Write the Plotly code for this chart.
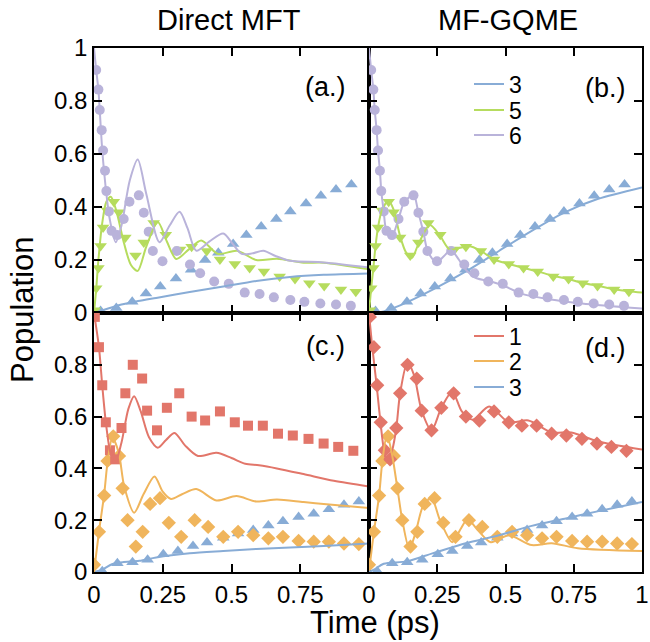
import plotly.graph_objects as go

# ---------------- data ----------------
# exact (marker) results, top row: states 3, 5, 6
T6_EX = [0.008, 0.016, 0.021, 0.028, 0.033, 0.040, 0.045, 0.054, 0.064, 0.084, 0.108, 0.129, 0.163, 0.181, 0.199, 0.214, 0.249, 0.301, 0.349, 0.386, 0.437, 0.490, 0.548, 0.602, 0.654, 0.714, 0.765, 0.823, 0.880, 0.934]
P6_EX = [0.917, 0.843, 0.766, 0.690, 0.613, 0.537, 0.460, 0.383, 0.310, 0.294, 0.355, 0.420, 0.444, 0.378, 0.307, 0.234, 0.195, 0.234, 0.183, 0.150, 0.119, 0.110, 0.077, 0.072, 0.059, 0.049, 0.042, 0.036, 0.032, 0.027]
T5_EX = [0.003, 0.008, 0.016, 0.024, 0.033, 0.048, 0.072, 0.090, 0.114, 0.151, 0.181, 0.217, 0.261, 0.313, 0.355, 0.410, 0.458, 0.512, 0.566, 0.618, 0.675, 0.731, 0.783, 0.837, 0.898, 0.952]
P5_EX = [0.010, 0.093, 0.170, 0.253, 0.323, 0.387, 0.420, 0.380, 0.285, 0.217, 0.266, 0.340, 0.295, 0.240, 0.250, 0.234, 0.202, 0.185, 0.170, 0.157, 0.138, 0.128, 0.112, 0.102, 0.089, 0.080]
T3_EX = [0.024, 0.081, 0.139, 0.189, 0.241, 0.298, 0.353, 0.404, 0.452, 0.506, 0.554, 0.608, 0.663, 0.714, 0.771, 0.825, 0.880, 0.936]
P3_EX = [0.008, 0.019, 0.042, 0.074, 0.100, 0.130, 0.163, 0.200, 0.227, 0.260, 0.294, 0.326, 0.355, 0.383, 0.413, 0.442, 0.466, 0.485]

# exact (marker) results, bottom row: states 1, 2, 3
T1_EX = [0.003, 0.018, 0.030, 0.043, 0.058, 0.077, 0.100, 0.114, 0.141, 0.175, 0.193, 0.229, 0.265, 0.310, 0.355, 0.404, 0.458, 0.512, 0.560, 0.614, 0.669, 0.723, 0.780, 0.835, 0.888, 0.943]
P1_EX = [0.985, 0.868, 0.721, 0.578, 0.470, 0.435, 0.556, 0.690, 0.800, 0.747, 0.623, 0.547, 0.634, 0.690, 0.600, 0.585, 0.620, 0.578, 0.565, 0.565, 0.534, 0.527, 0.514, 0.496, 0.483, 0.468]
T2_EX = [0.000, 0.018, 0.037, 0.049, 0.070, 0.091, 0.104, 0.122, 0.152, 0.177, 0.204, 0.240, 0.272, 0.317, 0.366, 0.415, 0.470, 0.524, 0.579, 0.634, 0.687, 0.744, 0.799, 0.854, 0.909, 0.963]
P2_EX = [0.028, 0.155, 0.295, 0.429, 0.524, 0.448, 0.323, 0.200, 0.098, 0.155, 0.263, 0.285, 0.190, 0.136, 0.200, 0.174, 0.136, 0.155, 0.142, 0.130, 0.136, 0.120, 0.117, 0.117, 0.110, 0.108]
T3B_EX = [0.030, 0.085, 0.140, 0.195, 0.252, 0.305, 0.360, 0.411, 0.470, 0.524, 0.579, 0.634, 0.687, 0.744, 0.799, 0.854, 0.909, 0.963]
P3B_EX = [0.003, 0.034, 0.038, 0.047, 0.069, 0.081, 0.100, 0.114, 0.132, 0.149, 0.162, 0.180, 0.196, 0.212, 0.225, 0.242, 0.260, 0.272]

# Direct MFT lines, panel (a)
T6_MFT = [0, 0.008, 0.016, 0.030, 0.045, 0.058, 0.079, 0.100, 0.130, 0.159, 0.190, 0.238, 0.275, 0.311, 0.340, 0.372, 0.420, 0.470, 0.505, 0.537, 0.575, 0.616, 0.660, 0.713, 0.835, 1.0]
P6_MFT = [1.0, 0.916, 0.842, 0.614, 0.450, 0.350, 0.267, 0.330, 0.500, 0.579, 0.450, 0.267, 0.330, 0.382, 0.320, 0.235, 0.270, 0.300, 0.260, 0.223, 0.225, 0.235, 0.215, 0.197, 0.191, 0.172]
T5_MFT = [0, 0.008, 0.016, 0.030, 0.045, 0.061, 0.080, 0.110, 0.135, 0.159, 0.190, 0.232, 0.265, 0.299, 0.345, 0.390, 0.451, 0.520, 0.590, 0.665, 0.762, 0.835, 1.0]
P5_MFT = [0.0, 0.090, 0.200, 0.340, 0.420, 0.439, 0.390, 0.260, 0.180, 0.159, 0.250, 0.343, 0.270, 0.204, 0.240, 0.274, 0.223, 0.235, 0.200, 0.205, 0.190, 0.190, 0.165]
T3_MFT = [0, 0.040, 0.100, 0.160, 0.226, 0.348, 0.470, 0.590, 0.713, 0.835, 1.0]
P3_MFT = [0, 0.013, 0.032, 0.045, 0.057, 0.079, 0.100, 0.121, 0.136, 0.144, 0.149]

# MF-GQME lines, panel (b)
T6_GQ = [0, 0.008, 0.016, 0.021, 0.028, 0.033, 0.040, 0.045, 0.054, 0.064, 0.084, 0.108, 0.129, 0.145, 0.163, 0.181, 0.199, 0.216, 0.247, 0.275, 0.300, 0.330, 0.355, 0.392, 0.450, 0.500, 0.560, 0.660, 0.780, 1.0]
P6_GQ = [1.0, 0.917, 0.843, 0.766, 0.690, 0.613, 0.537, 0.460, 0.383, 0.310, 0.290, 0.355, 0.420, 0.435, 0.450, 0.378, 0.307, 0.230, 0.192, 0.215, 0.238, 0.200, 0.163, 0.132, 0.118, 0.100, 0.072, 0.052, 0.036, 0.017]
T5_GQ = [0, 0.008, 0.016, 0.024, 0.033, 0.048, 0.072, 0.090, 0.114, 0.135, 0.157, 0.181, 0.223, 0.261, 0.295, 0.330, 0.367, 0.410, 0.458, 0.512, 0.566, 0.618, 0.675, 0.731, 0.783, 0.837, 0.898, 0.952, 1.0]
P5_GQ = [0, 0.093, 0.170, 0.253, 0.323, 0.390, 0.425, 0.390, 0.290, 0.230, 0.208, 0.260, 0.332, 0.290, 0.240, 0.245, 0.253, 0.234, 0.202, 0.185, 0.170, 0.157, 0.140, 0.128, 0.113, 0.103, 0.090, 0.082, 0.077]
T3_GQ = [0, 0.040, 0.114, 0.235, 0.355, 0.476, 0.596, 0.717, 0.837, 1.0]
P3_GQ = [0, 0.003, 0.029, 0.089, 0.157, 0.234, 0.310, 0.380, 0.430, 0.474]

# Direct MFT lines, panel (c)
T1_MFT = [0, 0.018, 0.030, 0.043, 0.060, 0.077, 0.100, 0.125, 0.146, 0.170, 0.200, 0.232, 0.262, 0.293, 0.330, 0.378, 0.445, 0.500, 0.550, 0.600, 0.665, 0.762, 0.872, 1.0]
P1_MFT = [1.0, 0.868, 0.720, 0.578, 0.460, 0.422, 0.500, 0.630, 0.679, 0.620, 0.520, 0.480, 0.510, 0.537, 0.490, 0.448, 0.460, 0.440, 0.418, 0.412, 0.400, 0.378, 0.352, 0.330]
T2_MFT = [0, 0.018, 0.037, 0.050, 0.067, 0.090, 0.110, 0.146, 0.180, 0.220, 0.250, 0.280, 0.320, 0.372, 0.445, 0.518, 0.590, 0.665, 0.762, 0.835, 1.0]
P2_MFT = [0, 0.155, 0.300, 0.430, 0.518, 0.460, 0.330, 0.229, 0.300, 0.369, 0.310, 0.282, 0.300, 0.320, 0.276, 0.293, 0.272, 0.280, 0.270, 0.263, 0.247]
T3B_MFT = [0, 0.030, 0.065, 0.104, 0.165, 0.226, 0.348, 0.470, 0.590, 0.713, 0.835, 1.0]
P3B_MFT = [0, 0.009, 0.030, 0.038, 0.043, 0.056, 0.072, 0.081, 0.089, 0.095, 0.100, 0.110]

# MF-GQME lines, panel (d)
T1_GQ = [0, 0.012, 0.028, 0.042, 0.055, 0.069, 0.085, 0.100, 0.114, 0.141, 0.165, 0.193, 0.229, 0.265, 0.305, 0.340, 0.380, 0.440, 0.512, 0.584, 0.669, 0.741, 0.837, 1.0]
P1_GQ = [1.0, 0.868, 0.721, 0.578, 0.470, 0.422, 0.470, 0.556, 0.690, 0.810, 0.760, 0.623, 0.547, 0.634, 0.696, 0.620, 0.588, 0.639, 0.578, 0.585, 0.539, 0.539, 0.505, 0.473]
T2_GQ = [0, 0.018, 0.037, 0.049, 0.066, 0.085, 0.104, 0.122, 0.148, 0.170, 0.200, 0.229, 0.260, 0.305, 0.335, 0.361, 0.400, 0.446, 0.512, 0.596, 0.669, 0.765, 1.0]
P2_GQ = [0, 0.155, 0.295, 0.429, 0.530, 0.450, 0.323, 0.200, 0.089, 0.150, 0.260, 0.285, 0.200, 0.115, 0.165, 0.204, 0.160, 0.115, 0.142, 0.104, 0.111, 0.092, 0.081]
T3B_GQ = [0, 0.020, 0.054, 0.139, 0.235, 0.355, 0.476, 0.596, 0.717, 0.837, 1.0]
P3B_GQ = [0, 0.010, 0.032, 0.041, 0.073, 0.111, 0.142, 0.178, 0.206, 0.234, 0.270]

X_TICKS = [0, 0.25, 0.5, 0.75, 1]
X_TEXT_LEFT = ["0", "0.25", "0.5", "0.75", ""]
X_TEXT_RIGHT = ["0", "0.25", "0.5", "0.75", "1"]
Y_TICKS = [0, 0.2, 0.4, 0.6, 0.8, 1]
Y_TEXT_TOP = ["0", "0.2", "0.4", "0.6", "0.8", "1"]
Y_TEXT_BOTTOM = ["0", "0.2", "0.4", "0.6", "0.8", ""]

# ---------------- style ----------------
C1 = "#e2766a"
C2 = "#f0b55c"
C3 = "#88acd6"
C5 = "#b6dc5e"
C6 = "#b9b3da"
FONT = "Liberation Sans, Arial, sans-serif"
LW = 2
W, H = 650, 642

fig = go.Figure()


def line(t, p, color, xa, ya, name=None, legend=None):
    fig.add_trace(go.Scatter(
        x=t, y=p, mode="lines", line=dict(color=color, width=LW, shape="spline", smoothing=0.8),
        xaxis=xa, yaxis=ya, name=name if name else "",
        showlegend=name is not None, legend=legend, hoverinfo="skip"))


def marks(t, p, color, symbol, size, xa, ya):
    fig.add_trace(go.Scatter(
        x=t, y=p, mode="markers", marker=dict(color=color, symbol=symbol, size=size, line=dict(width=0)),
        xaxis=xa, yaxis=ya, showlegend=False, hoverinfo="skip"))


# panel (a)
marks(T3_EX, P3_EX, C3, "triangle-up", 11, "x", "y")
marks(T5_EX, P5_EX, C5, "triangle-down", 11, "x", "y")
marks(T6_EX, P6_EX, C6, "circle", 10, "x", "y")
line(T3_MFT, P3_MFT, C3, "x", "y")
line(T5_MFT, P5_MFT, C5, "x", "y")
line(T6_MFT, P6_MFT, C6, "x", "y")

# panel (b)
marks(T3_EX, P3_EX, C3, "triangle-up", 11, "x2", "y2")
marks(T5_EX, P5_EX, C5, "triangle-down", 11, "x2", "y2")
marks(T6_EX, P6_EX, C6, "circle", 10, "x2", "y2")
line(T3_GQ, P3_GQ, C3, "x2", "y2", "3", "legend")
line(T5_GQ, P5_GQ, C5, "x2", "y2", "5", "legend2")
line(T6_GQ, P6_GQ, C6, "x2", "y2", "6", "legend3")

# panel (c)
marks(T3B_EX, P3B_EX, C3, "triangle-up", 11, "x3", "y3")
marks(T2_EX, P2_EX, C2, "diamond", 11, "x3", "y3")
marks(T1_EX, P1_EX, C1, "square", 10, "x3", "y3")
line(T3B_MFT, P3B_MFT, C3, "x3", "y3")
line(T2_MFT, P2_MFT, C2, "x3", "y3")
line(T1_MFT, P1_MFT, C1, "x3", "y3")

# panel (d)
marks(T3B_EX, P3B_EX, C3, "triangle-up", 11, "x4", "y4")
marks(T2_EX, P2_EX, C2, "diamond", 11, "x4", "y4")
marks(T1_EX, P1_EX, C1, "diamond", 11, "x4", "y4")
line(T1_GQ, P1_GQ, C1, "x4", "y4", "1", "legend4")
line(T2_GQ, P2_GQ, C2, "x4", "y4", "2", "legend5")
line(T3B_GQ, P3B_GQ, C3, "x4", "y4", "3", "legend6")

XL = [94 / W, 369 / W]
XR = [369 / W, 642 / W]
YT = [(H - 313) / H, (H - 48) / H]
YB = [(H - 572) / H, (H - 313) / H]

common = dict(showline=True, linecolor="black", linewidth=1.5, mirror="ticks",
              ticks="inside", ticklen=8, tickwidth=1.5, tickcolor="black",
              showgrid=False, zeroline=False, range=[0, 1], automargin=False,
              tickfont=dict(family=FONT, size=24, color="black"))


def leg(py):
    return dict(x=469 / W, y=(H - py) / H, xanchor="left", yanchor="middle",
                bgcolor="rgba(0,0,0,0)", font=dict(family=FONT, size=23, color="black"),
                itemwidth=30)


fig.update_layout(
    width=W, height=H, autosize=False,
    margin=dict(l=0, r=0, t=0, b=0, autoexpand=False),
    paper_bgcolor="white", plot_bgcolor="white",
    font=dict(family=FONT, color="black"),
    xaxis=dict(domain=XL, anchor="y", tickvals=X_TICKS, showticklabels=False, **common),
    xaxis2=dict(domain=XR, anchor="y2", tickvals=X_TICKS, showticklabels=False, **common),
    xaxis3=dict(domain=XL, anchor="y3", tickvals=X_TICKS, ticktext=X_TEXT_LEFT, **common),
    xaxis4=dict(domain=XR, anchor="y4", tickvals=X_TICKS, ticktext=X_TEXT_RIGHT, **common),
    yaxis=dict(domain=YT, anchor="x", tickvals=Y_TICKS, ticktext=Y_TEXT_TOP, **common),
    yaxis2=dict(domain=YT, anchor="x2", tickvals=Y_TICKS, showticklabels=False, **common),
    yaxis3=dict(domain=YB, anchor="x3", tickvals=Y_TICKS, ticktext=Y_TEXT_BOTTOM, **common),
    yaxis4=dict(domain=YB, anchor="x4", tickvals=Y_TICKS, showticklabels=False, **common),
    legend=leg(84), legend2=leg(110), legend3=leg(135),
    legend4=leg(336), legend5=leg(361), legend6=leg(387),
    showlegend=True,
)

ann = [
    ("Direct MFT", 229, 20, 29, 0),
    ("MF-GQME", 508, 20, 29, 0),
    ("Time (ps)", 375, 622, 31, 0),
    ("Population", 22, 310, 31, -90),
    ("(a.)", 326, 87, 27, 0),
    ("(b.)", 605, 88, 27, 0),
    ("(c.)", 326, 346, 27, 0),
    ("(d.)", 605, 348, 27, 0),
]
for txt, px, py, fs, ang in ann:
    fig.add_annotation(text=txt, x=px / W, y=(H - py) / H, xref="paper", yref="paper",
                       xanchor="center", yanchor="middle", showarrow=False, textangle=ang,
                       font=dict(family=FONT, size=fs, color="black"))

fig.write_html("out.html")
